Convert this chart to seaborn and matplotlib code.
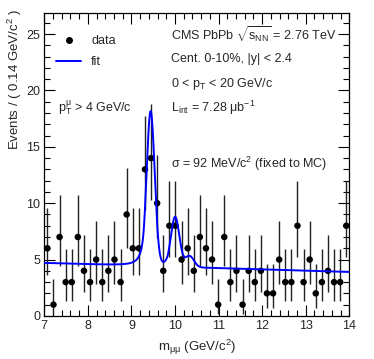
import matplotlib
matplotlib.use('Agg')
import matplotlib.pyplot as plt
from matplotlib.ticker import MultipleLocator
from matplotlib.lines import Line2D
import numpy as np
import pandas as pd
import seaborn as sns

# binned data: 50 bins of 0.14 GeV/c2 from 7 to 14
bin_width = 0.14
counts = [6, 1, 7, 3, 3, 7, 4, 3, 5, 3, 4, 5, 3, 9, 6, 6, 13, 14, 10, 4,
          8, 8, 5, 6, 4, 7, 6, 5, 1, 7, 3, 4, 1, 4, 3, 4, 2, 2, 5, 3,
          3, 8, 3, 5, 2, 3, 4, 3, 3, 8]

# 68% central poisson intervals (lower, upper) for n = 0..15
pois_lo = [0.0, 0.173, 0.708, 1.367, 2.086, 2.840, 3.620, 4.419, 5.232, 6.057,
           6.891, 7.734, 8.585, 9.441, 10.30, 11.17]
pois_hi = [1.841, 3.300, 4.638, 5.918, 7.163, 8.382, 9.584, 10.77, 11.95, 13.11,
           14.27, 15.42, 16.56, 17.70, 18.83, 19.96]

# fit parameters
m1s = 9.44
mass_ratio = [1.0, 1.0595, 1.0946]
peak_heights = [13.7, 4.4, 1.0]
sigma_1s = 0.092
cb_alpha, cb_n = 1.6, 2.5
bkg_at7, bkg_slope = 4.7, -0.114

centers = 7 + bin_width * (np.arange(len(counts)) + 0.5)
df = pd.DataFrame({'mass': centers, 'events': counts})
df['lo'] = df.events - np.array(pois_lo)[df.events]
df['hi'] = np.array(pois_hi)[df.events] - df.events


def crystal_ball(x, m, s):
    t = (x - m) / s
    a = abs(cb_alpha)
    A = (cb_n / a) ** cb_n * np.exp(-a * a / 2)
    B = cb_n / a - a
    core = np.exp(-t * t / 2)
    tail = A * np.abs(B - t) ** (-cb_n)
    return np.where(t > -a, core, tail)


xs = np.linspace(7, 14, 1400)
ys = bkg_at7 + bkg_slope * (xs - 7)
for r, h in zip(mass_ratio, peak_heights):
    ys = ys + h * crystal_ball(xs, m1s * r, sigma_1s * r)
fit = pd.DataFrame({'mass': xs, 'fit': ys})

sns.set_theme(style='ticks')
plt.rcParams['font.family'] = ['Liberation Sans', 'DejaVu Sans']
plt.rcParams['mathtext.fontset'] = 'custom'
plt.rcParams['mathtext.rm'] = 'Liberation Sans'
plt.rcParams['mathtext.it'] = 'Liberation Sans'
plt.rcParams['mathtext.sf'] = 'Liberation Sans'

fig = plt.figure(figsize=(3.74, 3.59), dpi=100)
ax = fig.add_axes([0.1185, 0.12, 0.8155, 0.8446])

ax.errorbar(df.mass, df.events, yerr=[df.lo, df.hi], fmt='none',
            ecolor='#222222', elinewidth=1.0, capsize=0, zorder=2)
sns.scatterplot(data=df, x='mass', y='events', ax=ax, color='black',
                s=22, edgecolor='none', zorder=3, legend=False)
sns.lineplot(data=fit, x='mass', y='fit', ax=ax, color='#0000ff',
             linewidth=1.4, zorder=4, legend=False)

ax.set_xlim(7, 14)
ax.set_ylim(0, 26.9)
ax.xaxis.set_major_locator(MultipleLocator(1))
ax.xaxis.set_minor_locator(MultipleLocator(0.2))
ax.yaxis.set_major_locator(MultipleLocator(5))
ax.yaxis.set_minor_locator(MultipleLocator(1))
ax.tick_params(which='both', direction='in', top=True, right=True,
               labelsize=9, width=0.8, color='black', pad=3)
ax.tick_params(which='major', length=8)
ax.tick_params(which='minor', length=4)
for sp in ax.spines.values():
    sp.set_linewidth(0.9)
    sp.set_color('black')

ax.set_xlabel(r'm$_{\mu\mu}$ (GeV/c$^2$)', fontsize=9.5, labelpad=4)
ax.set_ylabel('')
fig.text(0.04, 0.975, r'Events / ( 0.14 GeV/c$^2$ )', rotation=90,
         ha='center', va='top', fontsize=9.5)

handles = [Line2D([], [], marker='o', color='black', linestyle='none', markersize=4),
           Line2D([], [], color='#0000ff', linewidth=1.4)]
ax.legend(handles, ['data', 'fit'], loc='upper left', frameon=False,
          fontsize=9, bbox_to_anchor=(0.01, 0.955), handlelength=2.0,
          labelspacing=0.75, borderaxespad=0.3)

tx = 0.415
ax.text(tx, 0.925, r'CMS PbPb $\sqrt{s_{NN}}$ = 2.76 TeV', transform=ax.transAxes,
        fontsize=9, va='center')
ax.text(tx, 0.846, 'Cent. 0-10%, |y| < 2.4', transform=ax.transAxes,
        fontsize=9, va='center')
ax.text(tx, 0.765, r'0 < p$_T$ < 20 GeV/c', transform=ax.transAxes,
        fontsize=9, va='center')
ax.text(tx, 0.685, r'L$_{int}$ = 7.28 $\mu$b$^{-1}$', transform=ax.transAxes,
        fontsize=9, va='center')
ax.text(0.045, 0.685, r'p$_T^\mu$ > 4 GeV/c', transform=ax.transAxes,
        fontsize=9, va='center')
ax.text(tx, 0.5, r'$\sigma$ = 92 MeV/c$^2$ (fixed to MC)', transform=ax.transAxes,
        fontsize=9, va='center')

fig.savefig('out.png', dpi=100)
